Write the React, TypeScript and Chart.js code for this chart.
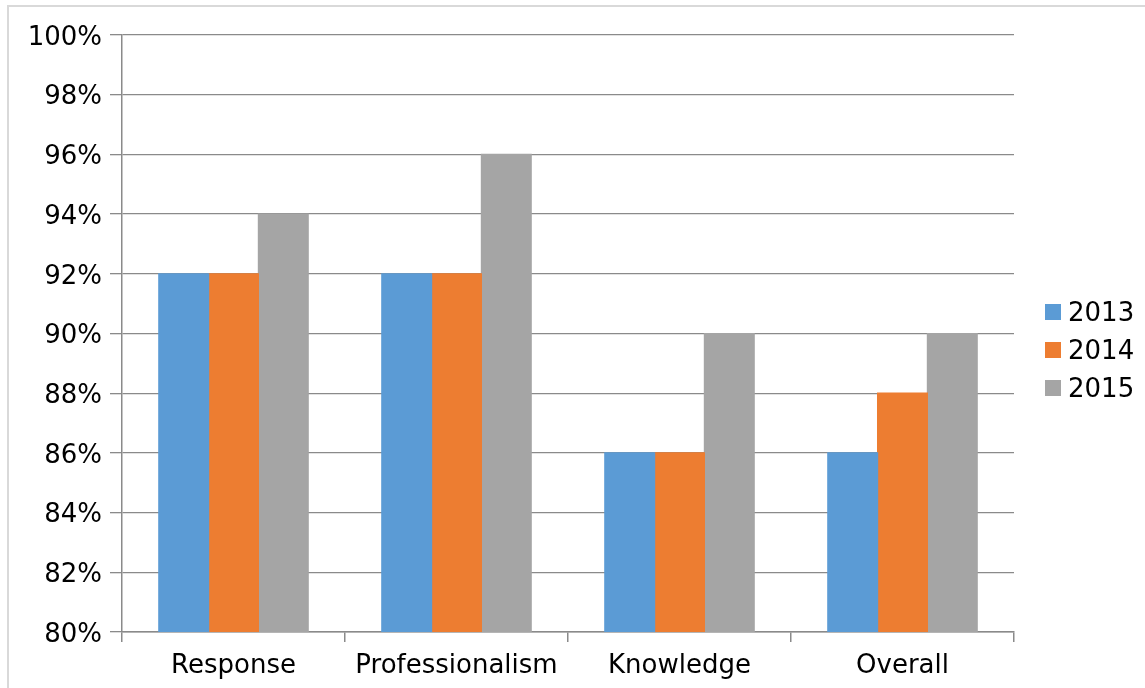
import React, { useEffect, useRef } from "react";
import { Chart, registerables } from "chart.js";

Chart.register(...registerables);

const categories = ["Response", "Professionalism", "Knowledge", "Overall"];
const seriesLabels = ["2013", "2014", "2015"];
const values2013 = [92, 92, 86, 86];
const values2014 = [92, 92, 86, 88];
const values2015 = [94, 96, 90, 90];
const colors = ["#5B9BD5", "#ED7D31", "#A5A5A5"];
const yMin = 80;
const yMax = 100;
const yStep = 2;

const FONT = "'DejaVu Sans', sans-serif";
const GRID = "#8a8a8a";

const frameAndLegend = {
  id: "frameAndLegend",
  afterDraw(chart: any) {
    const ctx = chart.ctx;
    ctx.save();
    ctx.strokeStyle = "#d9d9d9";
    ctx.lineWidth = 2;
    ctx.strokeRect(8, 6, 1200, 800);
    // legend
    const area = chart.chartArea;
    const x0 = area.right + 31;
    const yc = 350;
    const spacing = 38;
    const n = chart.data.datasets.length;
    ctx.font = "26px " + FONT;
    ctx.textBaseline = "middle";
    ctx.textAlign = "left";
    chart.data.datasets.forEach((ds: any, i: number) => {
      const y = yc + (i - (n - 1) / 2) * spacing;
      ctx.fillStyle = ds.backgroundColor;
      ctx.fillRect(x0, y - 8, 16, 16);
      ctx.fillStyle = "#000";
      ctx.fillText(ds.label, x0 + 23, y + 2);
    });
    ctx.restore();
  },
};

export default function App() {
  const ref = useRef<HTMLCanvasElement>(null);
  useEffect(() => {
    if (!ref.current) return;
    const chart = new Chart(ref.current, {
      type: "bar",
      data: {
        labels: categories,
        datasets: [values2013, values2014, values2015].map((d, i) => ({
          label: seriesLabels[i],
          data: d,
          backgroundColor: colors[i],
          borderWidth: 0,
          inflateAmount: 0.6,
          categoryPercentage: 0.67,
          barPercentage: 1,
        })),
      },
      options: {
        animation: false,
        responsive: false,
        maintainAspectRatio: false,
        layout: { padding: { left: 0, top: 35, right: 131, bottom: 0 } },
        plugins: { legend: { display: false }, tooltip: { enabled: false } },
        scales: {
          x: {
            afterFit: (s: any) => {
              s.height = 56;
            },
            grid: {
              drawOnChartArea: true,
              color: (c: any) => (c.index === categories.length ? GRID : "transparent"),
              tickColor: GRID,
              tickLength: 10,
              lineWidth: 1.5,
            },
            border: { color: GRID, width: 1.5 },
            ticks: { font: { family: FONT, size: 26 }, color: "#000", padding: 9 },
          },
          y: {
            min: yMin,
            max: yMax,
            afterFit: (s: any) => {
              s.width = 122;
            },
            grid: { color: GRID, tickLength: 12, lineWidth: 1.3 },
            border: { color: GRID, width: 1.5 },
            ticks: {
              stepSize: yStep,
              font: { family: FONT, size: 26 },
              color: "#000",
              padding: 8,
              labelOffset: 3,
              callback: (v: any) => v + "%",
            },
          },
        },
      },
      plugins: [frameAndLegend],
    });
    return () => chart.destroy();
  }, []);
  return (
    <div style={{ position: "absolute", left: 0, top: 0, width: 1145, height: 688, background: "#fff" }}>
      <canvas ref={ref} width={1145} height={688} style={{ width: 1145, height: 688 }} />
    </div>
  );
}
